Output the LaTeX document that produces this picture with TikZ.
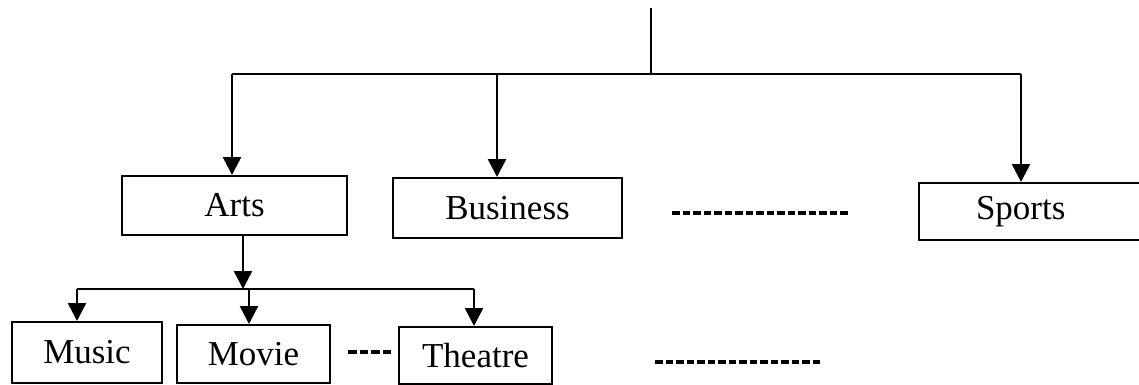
\documentclass[tikz,border=0pt]{standalone}
\usepackage{fontspec}
\setmainfont{Liberation Serif}
\usetikzlibrary{arrows.meta}
\begin{document}
\begin{tikzpicture}[x=1pt,y=-1pt,
  box/.style={draw=black, line width=2pt, inner sep=0pt, font=\fontsize{35}{41}\selectfont},
  link/.style={draw=black, line width=2.6pt},
  arrow/.style={link, -{Triangle[width=18pt,length=18pt]}},
  ellip/.style={draw=black, line width=3.2pt, dash pattern=on 7.5pt off 3pt}]
  \useasboundingbox (0,0) rectangle (1139,385);
  \clip (0,0) rectangle (1139,385);

  % top-level categories
  \node[box, minimum width=225pt, minimum height=59pt] (arts) at (234.5,205.5) {Arts};
  \node[box, minimum width=229pt, minimum height=60pt] (business) at (507.5,208) {Business};
  \node[box, anchor=west, minimum height=57pt, text width=260pt, align=left, inner xsep=10pt]
       (sports) at (918,211.5) {\hspace*{47pt}Sports};

  % sub-categories of Arts
  \node[box, minimum width=150pt, minimum height=61pt] (music) at (87,352.5) {Music};
  \node[box, minimum width=153pt, minimum height=58pt] (movie) at (253.5,354) {Movie};
  \node[box, minimum width=153pt, minimum height=57pt] (theatre) at (475.5,355.5) {Theatre};

  % root bus
  \coordinate (root) at (651,8);
  \coordinate (hub) at (651,74);
  \coordinate (busL) at (232,74);
  \coordinate (busB) at (497,74);
  \coordinate (busR) at (1021,74);
  \draw[link] (root) -- (hub);
  \draw[link] (busL) -- (busR);
  \draw[arrow] (busL) -- (busL |- arts.north);
  \draw[arrow] (busB) -- (busB |- business.north);
  \draw[arrow] (busR) -- (busR |- sports.north);

  % Arts bus
  \coordinate (artsOut) at (243,235);
  \coordinate (artsHub) at (243,289);
  \coordinate (subL) at (77,289);
  \coordinate (subM) at (249,289);
  \coordinate (subR) at (474,289);
  \draw[arrow] (artsOut |- arts.south) -- (artsHub);
  \draw[link] (subL) -- (subR);
  \draw[arrow] (subL) -- (subL |- music.north);
  \draw[arrow] (subM) -- (subM |- movie.north);
  \draw[arrow] (subR) -- (subR |- theatre.north);

  % continuation marks
  \draw[ellip] (672,213) -- (848,213);
  \draw[ellip, dash pattern=on 8.5pt off 3pt] (348,352) -- (392,352);
  \draw[ellip] (655,362) -- (822,362);
\end{tikzpicture}
\end{document}
